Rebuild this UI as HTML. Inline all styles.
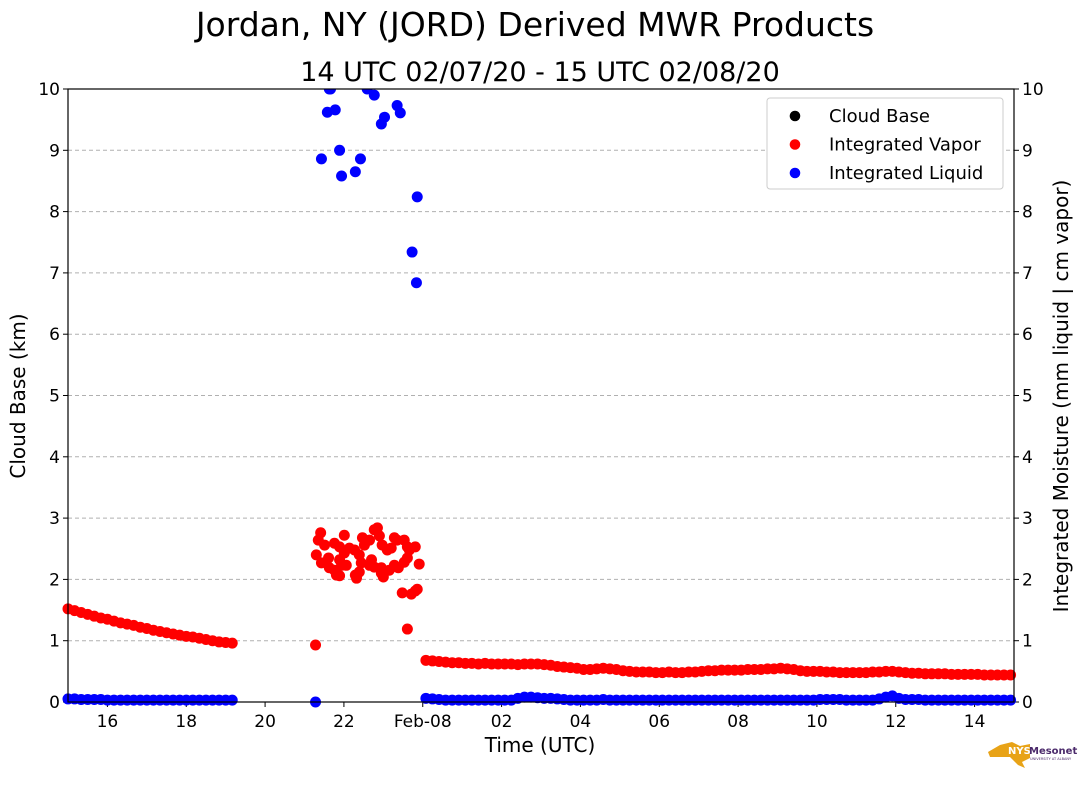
<!DOCTYPE html>
<html><head><meta charset="utf-8"><style>
body{margin:0;background:#fff;font-family:"Liberation Sans","DejaVu Sans",sans-serif}
svg text{font-family:"DejaVu Sans","Liberation Sans",sans-serif}
</style></head><body>
<svg id="c" width="1089" height="804" xmlns="http://www.w3.org/2000/svg"><defs><clipPath id="pc"><rect x="62" y="89" width="960" height="630"/></clipPath></defs></svg>
<script>
const vap1Start=15, vapor1=[1.52,1.49,1.46,1.43,1.40,1.37,1.35,1.32,1.29,1.27,1.25,1.22,1.20,1.17,1.15,1.13,1.11,1.09,1.07,1.06,1.04,1.02,1.00,0.98,0.97,0.96];
const liquid1=[0.05,0.05,0.04,0.04,0.04,0.04,0.03,0.03,0.03,0.03,0.03,0.03,0.03,0.03,0.03,0.03,0.03,0.03,0.03,0.03,0.03,0.03,0.03,0.03,0.03,0.03];
const vap2Start=24.08, vapor2=[.68,.67,.66,.65,.64,.64,.63,.63,.62,.63,.62,.62,.62,.62,.61,.62,.62,.62,.61,.60,.58,.57,.56,.55,.53,.53,.54,.55,.54,.53,.51,.50,.49,.49,.49,.48,.48,.49,.48,.48,.49,.49,.50,.51,.51,.52,.52,.52,.52,.53,.53,.53,.54,.54,.55,.54,.53,.51,.50,.50,.50,.49,.49,.48,.48,.48,.48,.48,.49,.49,.50,.50,.49,.48,.47,.47,.46,.46,.46,.46,.45,.45,.45,.45,.45,.44,.44,.44,.44,.44];
const liquid2=[.06,.05,.04,.03,.03,.03,.03,.03,.03,.03,.03,.03,.03,.03,.06,.08,.08,.07,.06,.06,.05,.04,.03,.03,.03,.03,.03,.04,.03,.03,.03,.03,.03,.03,.03,.03,.03,.03,.03,.03,.03,.03,.03,.03,.03,.03,.03,.03,.03,.03,.03,.03,.03,.03,.03,.03,.03,.03,.03,.03,.04,.04,.04,.04,.03,.03,.03,.03,.03,.05,.08,.10,.06,.04,.04,.04,.03,.03,.03,.03,.03,.03,.03,.03,.03,.03,.03,.03,.03,.03];
const clusterVapT=[21.28,21.41,21.35,21.51,21.76,21.89,22.01,21.30,21.43,21.61,21.89,22.01,22.14,22.27,22.39,22.47,22.52,22.65,22.77,22.85,22.90,22.97,23.10,23.20,23.28,23.35,23.53,23.61,23.66,22.65,22.70,22.77,22.95,23.15,23.28,23.53,23.61,23.38,21.63,21.76,21.89,21.94,22.06,22.29,22.39,22.95,23.00,22.44,23.71,23.81,23.86,23.48,23.61,21.81,22.32,23.81,23.91];
const clusterVap=[0.93,2.76,2.64,2.56,2.59,2.53,2.72,2.40,2.27,2.35,2.32,2.43,2.51,2.48,2.40,2.68,2.56,2.64,2.81,2.84,2.71,2.56,2.48,2.51,2.68,2.64,2.64,2.53,2.48,2.23,2.32,2.20,2.19,2.15,2.23,2.28,2.35,2.19,2.19,2.15,2.06,2.23,2.23,2.07,2.12,2.10,2.04,2.27,1.76,1.81,1.84,1.78,1.19,2.07,2.02,2.53,2.25];
const clusterLiqT=[21.28,21.43,21.58,21.66,21.63,21.78,21.89,21.94,22.29,22.42,22.59,22.77,22.95,23.03,23.35,23.43,23.73,23.84,23.86];
const clusterLiq=[0.0,8.86,9.62,10.0,10.0,9.66,9.0,8.58,8.65,8.86,10.0,9.9,9.43,9.54,9.73,9.61,7.34,6.84,8.24];
const xTickH=[16,18,20,22,24,26,28,30,32,34,36,38];
const xTickL=["16","18","20","22","Feb-08","02","04","06","08","10","12","14"];
const yTicks=[0,1,2,3,4,5,6,7,8,9,10];

const NS="http://www.w3.org/2000/svg", svg=document.getElementById('c');
const L=68,R=1014,T=89,B=702;
const xs=h=>L+(h-15)/24*(R-L), ys=v=>B-v/10*(B-T);
function el(tag,a,txt,p){const e=document.createElementNS(NS,tag);for(const k in a)e.setAttribute(k,a[k]);if(txt!=null)e.textContent=txt;(p||svg).appendChild(e);return e;}
let t=el('text',{x:535,y:36,'font-size':33,'text-anchor':'middle'},'Jordan, NY (JORD) Derived MWR Products');

t=el('text',{x:540,y:81,'font-size':27,'text-anchor':'middle'},'14 UTC 02/07/20 - 15 UTC 02/08/20');

yTicks.forEach(v=>{const y=ys(v);
 if(v>0&&v<10){const g=el('line',{x1:L,x2:R,y1:y,y2:y,stroke:'#b0b0b0','stroke-dasharray':'4,3'});}
 el('line',{x1:L-5,x2:L,y1:y,y2:y,stroke:'#000'});el('line',{x1:R,x2:R+5,y1:y,y2:y,stroke:'#000'});
 let a=el('text',{x:L-8,y:y+6,'font-size':17,'text-anchor':'end'},String(v));
 a=el('text',{x:R+8,y:y+6,'font-size':17},String(v));
});
xTickH.forEach((h,i)=>{const x=xs(h);el('line',{x1:x,x2:x,y1:B,y2:B+5,stroke:'#000'});
 const a=el('text',{x:x,y:B+25,'font-size':17,'text-anchor':'middle'},xTickL[i]);});
const dg=el('g',{'clip-path':'url(#pc)'});

function dot(h,v,c){const d=el('circle',{cx:xs(h),cy:ys(v),r:5.5,fill:c},null,dg);}
vapor1.forEach((v,i)=>dot(vap1Start+i/6,v,'red'));
vapor2.forEach((v,i)=>dot(vap2Start+i/6,v,'red'));
clusterVap.forEach((v,i)=>dot(clusterVapT[i],v,'red'));
liquid1.forEach((v,i)=>dot(vap1Start+i/6,v,'blue'));
liquid2.forEach((v,i)=>dot(vap2Start+i/6,v,'blue'));
clusterLiq.forEach((v,i)=>dot(clusterLiqT[i],v,'blue'));
let f=el('rect',{x:L,y:T,width:R-L,height:B-T,fill:'none',stroke:'#000','stroke-width':1.2});
t=el('text',{x:540,y:752,'font-size':20,'text-anchor':'middle'},'Time (UTC)');
t=el('text',{x:0,y:0,'font-size':20,'text-anchor':'middle',transform:'translate(25,396) rotate(-90)'},'Cloud Base (km)');
t=el('text',{x:0,y:0,'font-size':20,'text-anchor':'middle',transform:'translate(1068,396) rotate(-90)'},'Integrated Moisture (mm liquid | cm vapor)');
let lg=el('rect',{x:767,y:98,width:236,height:91,rx:3,fill:'#fff',stroke:'#ccc'});
[['Cloud Base','black'],['Integrated Vapor','red'],['Integrated Liquid','blue']].forEach((e,i)=>{const y=116+i*28.5;
 el('circle',{cx:795,cy:y,r:5.3,fill:e[1]});
 const a=el('text',{x:829,y:y+6,'font-size':18},e[0]);});
let lo=el('polygon',{points:'988,752 1000,745 1012,742 1020,746 1030,744 1030,758 1022,762 1025,768 1018,765 1010,757 990,757',fill:'#e8a317'});
el('text',{x:1008,y:754,'font-size':10,'font-weight':'bold',fill:'#fff'},'NYS');
el('text',{x:1029,y:754,'font-size':10,'font-weight':'bold',fill:'#4b2a6b'},'Mesonet');
el('text',{x:1030,y:760,'font-size':3.5,fill:'#4b2a6b'},'UNIVERSITY AT ALBANY');
</script>
</body></html>
